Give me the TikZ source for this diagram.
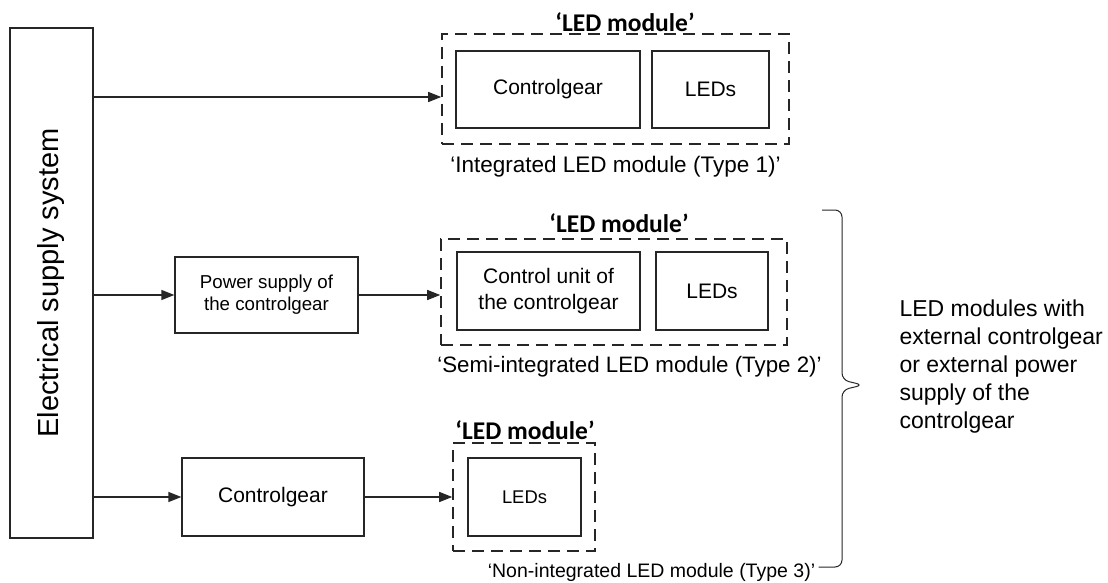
\documentclass[tikz,border=0pt]{standalone}
\usepackage{fontspec}
\setmainfont{Liberation Sans}
\newfontfamily\carlito{Carlito}
\usetikzlibrary{arrows.meta}

\tikzset{
  blk/.style={draw=black!85,line width=1.3pt,inner sep=0pt,align=center,font=\fontsize{21}{26.5}\selectfont},
  modbox/.style={draw=black!85,line width=1.6pt,dash pattern=on 12pt off 7pt,inner sep=0pt},
  modlbl/.style={font=\carlito\bfseries\fontsize{25.5}{30}\selectfont},
  captxt/.style={font=\fontsize{22.5}{27}\selectfont},
  arr/.style={-{Triangle[length=13pt,width=10pt]},line width=1.3pt,draw=black!85}
}

\begin{document}
\begin{tikzpicture}[x=1pt,y=-1pt]
\useasboundingbox (0,0) rectangle (1108,583);

\node[blk,minimum width=83pt,minimum height=510pt] (esys) at (51.5,283) {};
\node[rotate=90,font=\fontsize{29}{34}\selectfont] (esyslbl) at (esys.center) {Electrical supply system};

%Type 1
\node[modbox,minimum width=347pt,minimum height=110pt] (mod1) at (615.5,89) {};
\node[blk,minimum width=184pt,minimum height=77pt] (cg1) at (548,89.5) {Controlgear};
\node[blk,minimum width=117pt,minimum height=77pt] (led1) at (710.5,89.5) {LEDs};
\node[modlbl] (lbl1) at (625,22) {‘LED module’};
\node[captxt] (cap1) at (615.5,167) {‘Integrated LED module (Type 1)’};
\coordinate (in1) at ([yshift=-8pt]mod1.west);

%Type 2
\node[blk,minimum width=183pt,minimum height=76pt,font=\fontsize{18.7}{22}\selectfont] (pwr) at (266.5,295) {Power supply of\\the controlgear};
\node[modbox,minimum width=346pt,minimum height=106pt] (mod2) at (614,292) {};
\node[blk,minimum width=183pt,minimum height=78pt] (cu2) at (548.5,291) {Control unit of\\the controlgear};
\node[blk,minimum width=112pt,minimum height=78pt] (led2) at (712,291) {LEDs};
\node[modlbl] (lbl2) at (619,223) {‘LED module’};
\node[captxt,font=\fontsize{22.3}{27}\selectfont] (cap2) at (629.5,367) {‘Semi-integrated LED module (Type 2)’};

%Type 3
\node[blk,minimum width=182pt,minimum height=78pt] (cg3) at (273,497) {Controlgear};
\node[modbox,minimum width=142pt,minimum height=108pt] (mod3) at (524,497) {};
\node[blk,minimum width=113pt,minimum height=78pt,font=\fontsize{18.4}{22}\selectfont] (led3) at (524.5,497) {LEDs};
\node[modlbl] (lbl3) at (525,430) {‘LED module’};
\node[captxt,font=\fontsize{19.5}{24}\selectfont] (cap3) at (651.5,572) {‘Non-integrated LED module (Type 3)’};

\draw[arr] (esys.east |- in1) -- (in1);
\draw[arr] (esys.east |- pwr.west) -- (pwr.west);
\draw[arr] (pwr.east) -- (pwr.east -| mod2.west);
\draw[arr] (esys.east |- cg3.west) -- (cg3.west);
\draw[arr] (cg3.east) -- (cg3.east -| mod3.west);

%brace
\coordinate (btop) at (822,210);
\coordinate (btip) at (863,385);
\coordinate (bbot) at (cap3.east |- 0,567);
\draw[line width=1pt,draw=black!85,rounded corners=7pt] (btop) -- (842,210) -- (842,380) -- (btip) -- (842,390) -- (842,567) -- (bbot);
\node[anchor=west,align=left,font=\fontsize{23}{28}\selectfont] (note) at (896,367) {LED modules with\\external controlgear\\or external power\\supply of the\\controlgear};

\end{tikzpicture}
\end{document}
